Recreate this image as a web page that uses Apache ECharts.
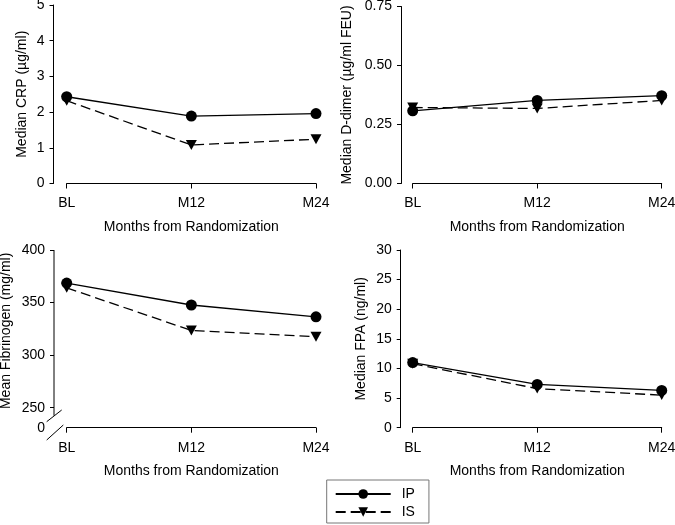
<!DOCTYPE html>
<html><head><meta charset="utf-8">
<script src="https://cdn.jsdelivr.net/npm/echarts@6/dist/echarts.min.js"></script>
<style>html,body{margin:0;padding:0;background:#fff}#c{width:675px;height:525px}</style>
</head><body><div id="c"></div>
<script>
// ---- data ----
const categories = ['BL', 'M12', 'M24'];
const crpIP = [2.43, 1.89, 1.96];
const crpIS = [2.32, 1.08, 1.24];
const ddimerIP = [0.308, 0.352, 0.372];
const ddimerIS = [0.322, 0.318, 0.352];
const fibIP = [368.5, 347.7, 336.4];
const fibIS = [364, 323.5, 317.5];
const fpaIP = [11.0, 7.3, 6.3];
const fpaIS = [10.8, 6.6, 5.5];
const crpTicks = [0, 1, 2, 3, 4, 5];
const ddimerTicks = [0, 0.25, 0.5, 0.75];
const fibTicks = [250, 300, 350, 400];
const fibBreakLabel = '0';
const fpaTicks = [0, 5, 10, 15, 20, 25, 30];
const seriesNames = ['IP', 'IS'];
const xTitle = 'Months from Randomization';
const yTitles = ['Median CRP (µg/ml)', 'Median D-dimer (µg/ml FEU)', 'Mean Fibrinogen (mg/ml)', 'Median FPA (ng/ml)'];

// ---- layout ----
const FONT = "'Liberation Sans', Arial, sans-serif";
const fibMin = 231; // axis-break position (shown as "0")
const panels = [
  { grid: { left: 66.7, top: 5, width: 249.3, height: 178.5 }, off: 13.2, ip: crpIP, is: crpIS, min: 0, max: 5, ticks: crpTicks, labels: crpTicks, fmt: v => String(v), nameGap: 24, namePad: 0 },
  { grid: { left: 412.7, top: 6.5, width: 249, height: 177 }, off: 11.7, ip: ddimerIP, is: ddimerIS, min: 0, max: 0.75, ticks: ddimerTicks, labels: ddimerTicks, fmt: v => v.toFixed(2), nameGap: 47, namePad: 0 },
  { grid: { left: 66.7, top: 250, width: 249.3, height: 177.7 }, off: 12.7, ip: fibIP, is: fibIS, min: fibMin, max: 400, ticks: fibTicks, labels: [fibMin].concat(fibTicks), fmt: v => (v < fibTicks[0] ? fibBreakLabel : String(v)), nameGap: 41, namePad: 16, noLine: true },
  { grid: { left: 412.7, top: 250, width: 249, height: 177.7 }, off: 12, ip: fpaIP, is: fpaIS, min: 0, max: 30, ticks: fpaTicks, labels: fpaTicks, fmt: v => String(v), nameGap: 33, namePad: 0 }
];

const axisLineStyle = { color: '#000', width: 1 };
const grids = [], xAxes = [], yAxes = [], series = [];
panels.forEach((p, i) => {
  grids.push(Object.assign({ containLabel: false, outerBoundsMode: 'none' }, p.grid));
  xAxes.push({
    type: 'category', gridIndex: i, data: categories, boundaryGap: false,
    axisLine: { show: true, lineStyle: axisLineStyle },
    axisTick: { show: true, length: 5, lineStyle: axisLineStyle },
    axisLabel: { margin: 13, fontSize: 14, color: '#000', fontFamily: FONT },
    splitLine: { show: false },
    name: xTitle, nameLocation: 'middle', nameGap: 36.5,
    nameTextStyle: { fontSize: 14, color: '#000', fontFamily: FONT }
  });
  yAxes.push({
    type: 'value', gridIndex: i, min: p.min, max: p.max, offset: p.off,
    axisLine: { show: !p.noLine, lineStyle: axisLineStyle },
    axisTick: { show: true, length: 4, customValues: p.ticks, lineStyle: axisLineStyle },
    axisLabel: { customValues: p.labels, formatter: p.fmt, margin: 9, fontSize: 14, color: '#000', fontFamily: FONT },
    splitLine: { show: false },
    name: yTitles[i], nameLocation: 'middle', nameGap: p.nameGap,
    nameTextStyle: { fontSize: 14, color: '#000', fontFamily: FONT, padding: [0, 0, 0, p.namePad] }
  });
  series.push({
    name: seriesNames[0], type: 'line', xAxisIndex: i, yAxisIndex: i, data: p.ip,
    symbol: 'circle', symbolSize: 11,
    lineStyle: { color: '#000', width: 1.3, type: 'solid' },
    itemStyle: { color: '#000' }, z: 3
  });
  series.push({
    name: seriesNames[1], type: 'line', xAxisIndex: i, yAxisIndex: i, data: p.is,
    symbol: 'triangle', symbolSize: [11, 10], symbolRotate: 180,
    lineStyle: { color: '#000', width: 1.3, type: [10, 5] },
    itemStyle: { color: '#000' }, z: 2
  });
});

const chart = echarts.init(document.getElementById('c'), null, { renderer: 'canvas' });
chart.setOption({
  animation: false,
  backgroundColor: '#fff',
  textStyle: { fontFamily: FONT },
  grid: grids, xAxis: xAxes, yAxis: yAxes, series: series,
  legend: {
    orient: 'vertical', left: 326.7, top: 480, padding: [7, 14, 4, 8],
    itemWidth: 55, itemHeight: 12, itemGap: 4,
    borderColor: '#777', borderWidth: 1,
    textStyle: { fontSize: 14, color: '#000', fontFamily: FONT, padding: [0, 0, 0, 6] },
    data: seriesNames
  }
});

// axis-break decoration for fibrinogen panel
const x0 = panels[2].grid.left - panels[2].off;
const yTop = chart.convertToPixel({ yAxisIndex: 2 }, fibTicks[fibTicks.length - 1]);
const y0 = chart.convertToPixel({ yAxisIndex: 2 }, fibMin);
const st = { stroke: '#000', lineWidth: 1 };
chart.setOption({
  graphic: [
    { type: 'line', shape: { x1: x0, y1: yTop, x2: x0, y2: y0 - 12 }, style: st },
    { type: 'line', shape: { x1: x0 - 7.3, y1: y0 - 6, x2: x0 + 7.7, y2: y0 - 17.7 }, style: st },
    { type: 'line', shape: { x1: x0 - 7.3, y1: y0 + 12.3, x2: x0 + 9.3, y2: y0 - 2.7 }, style: st }
  ]
});
</script></body></html>
